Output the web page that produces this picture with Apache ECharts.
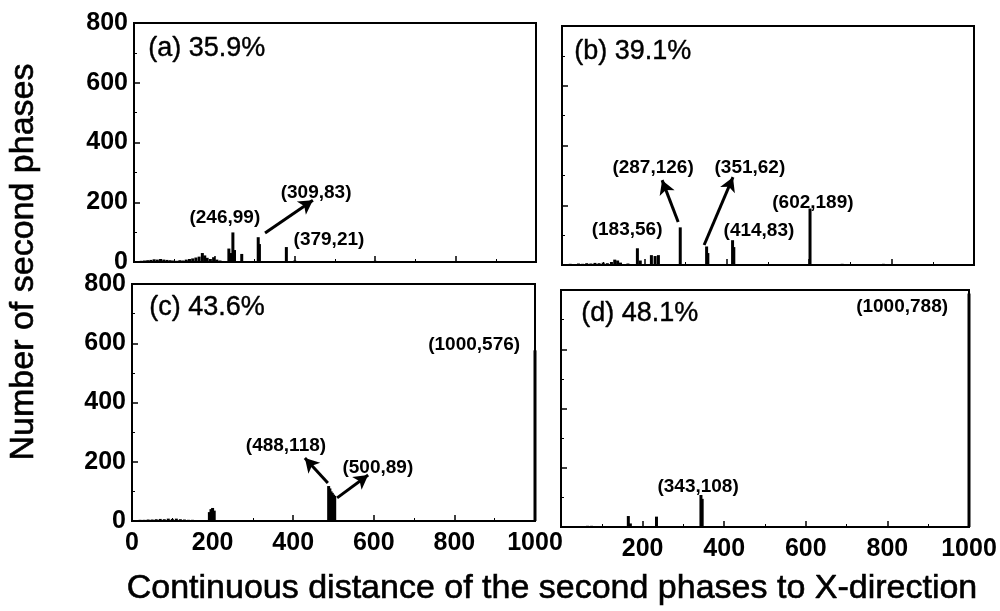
<!DOCTYPE html>
<html>
<head>
<meta charset="utf-8">
<script src="https://cdn.jsdelivr.net/npm/echarts@6/dist/echarts.min.js"></script>
<style>html,body{margin:0;padding:0;background:#fff;}#c{width:1000px;height:611px;}</style>
</head>
<body>
<div id="c"></div>
<script>
// ---- data ----
const xTicks = [0, 200, 400, 600, 800, 1000];
const yTicks = [0, 200, 400, 600, 800];

const panelTitles = ['(a) 35.9%', '(b) 39.1%', '(c) 43.6%', '(d) 48.1%'];

const aX = [10,18,26,34,42,50,58,66,74,82,90,98,106,114,122,130,138,146,154,162,170,176,182,190,198,206,214,236,240,246,250,268,309,312,379,400,600,800];
const aY = [3,4,5,6,7,9,8,10,8,7,6,5,4,6,5,8,10,12,15,18,30,22,14,10,16,8,5,45,30,99,40,27,83,60,50,5,4,3];

const bX = [10,20,30,40,50,60,70,80,90,100,110,120,128,135,142,160,183,190,217,226,234,287,351,354,414,417,602,680,780,880];
const bY = [3,4,3,5,4,6,5,7,6,8,6,10,18,15,8,5,56,15,33,30,33,126,62,40,83,60,189,4,4,3];

const cX = [10,20,30,40,50,60,70,80,90,100,110,120,130,140,150,192,196,200,204,488,491,494,497,500,503,1000];
const cY = [3,4,4,5,5,6,7,6,8,7,8,6,5,4,4,30,40,44,35,118,110,100,95,89,85,576];

const dX = [55,65,75,85,95,165,170,234,343,346,1000];
const dY = [3,4,4,3,3,37,12,35,108,95,788];

// annotation text and where (in data units) each label sits
const aNotes = [['(246,99)',226,147],['(309,83)',453,231],['(379,21)',485,74]];
const bNotes = [['(287,126)',221,324],['(351,62)',456,324],['(602,189)',609,207],['(183,56)',158,117],['(414,83)',478,114]];
const cNotes = [['(1000,576)',849,595],['(488,118)',382,253],['(500,89)',610,179]];
const dNotes = [['(1000,788)',836,743],['(343,108)',336,135]];

// arrows [fromX, fromY, toX, toY] in data units
const aArrows = [[326,97,445,207]];
const bArrows = [[282,144,243,284],[345,67,415,294]];
const cArrows = [[486,128,429,213],[509,78,586,155]];
const dArrows = [];

// ---- chart ----
const FF = '"Liberation Sans", Arial, sans-serif';
const grids = [
  {left:134, top:23, width:402, height:239},
  {left:562, top:26, width:412, height:239},
  {left:132, top:284, width:403, height:237},
  {left:561, top:290, width:408, height:237}
].map(g => Object.assign(g, {show:true, borderColor:'#000', borderWidth:2, backgroundColor:'rgba(0,0,0,0)'}));

function mkX(i, showLabels, hideZero) {
  return {
    type:'value', gridIndex:i, min:xTicks[0], max:xTicks[xTicks.length-1], interval:200,
    axisLine:{show:true, lineStyle:{color:'#000', width:2}},
    axisTick:{show:true, inside:true, length:6, lineStyle:{color:'#000', width:1.5}},
    minorTick:{show:true, splitNumber:2, length:3, lineStyle:{color:'#000', width:1}},
    splitLine:{show:false},
    axisLabel:{show:showLabels, color:'#000', fontSize:25, fontWeight:'bold', fontFamily:FF, margin:10,
      formatter: v => (hideZero && v === 0) ? '' : String(v)}
  };
}
function mkY(i, showLabels) {
  return {
    type:'value', gridIndex:i, min:yTicks[0], max:yTicks[yTicks.length-1], interval:200,
    axisLine:{show:true, lineStyle:{color:'#000', width:2}},
    axisTick:{show:true, inside:true, length:6, lineStyle:{color:'#000', width:1.5}},
    minorTick:{show:true, splitNumber:2, length:3, lineStyle:{color:'#000', width:1}},
    splitLine:{show:false},
    axisLabel:{show:showLabels, color:'#000', fontSize:25, fontWeight:'bold', fontFamily:FF, margin:6}
  };
}

function mkSeries(i, xs, ys, notes, arrows) {
  const data = xs.map((x, k) => [x, ys[k]]);
  return {
    type:'bar', xAxisIndex:i, yAxisIndex:i, data, barWidth:3, clip:false,
    itemStyle:{color:'#000'}, silent:true, animation:false,
    markPoint:{
      symbol:'circle', symbolSize:0, silent:true, animation:false,
      label:{show:true, position:'inside', color:'#000', fontFamily:FF, fontSize:19, fontWeight:'bold', formatter:'{b}'},
      data: notes.map(n => ({name:n[0], coord:[n[1], n[2]]}))
    },
    markLine:{
      silent:true, animation:false, symbol:['none','arrow'], symbolSize:[12,14],
      lineStyle:{color:'#000', width:3, type:'solid'}, label:{show:false},
      data: arrows.map(a => [{coord:[a[0], a[1]]}, {coord:[a[2], a[3]]}])
    }
  };
}

const chart = echarts.init(document.getElementById('c'), null, {renderer:'canvas'});
const titlePos = [[148,35],[574,38],[149,294],[581,300]];
chart.setOption({
  backgroundColor:'#fff',
  animation:false,
  grid: grids,
  xAxis: [mkX(0,false,false), mkX(1,false,false), mkX(2,true,false), mkX(3,true,true)],
  yAxis: [mkY(0,true), mkY(1,false), mkY(2,true), mkY(3,false)],
  series: [
    mkSeries(0, aX, aY, aNotes, aArrows),
    mkSeries(1, bX, bY, bNotes, bArrows),
    mkSeries(2, cX, cY, cNotes, cArrows),
    mkSeries(3, dX, dY, dNotes, dArrows)
  ],
  graphic: [
    ...panelTitles.map((t, i) => ({type:'text', left:titlePos[i][0], top:titlePos[i][1],
      style:{text:t, fill:'#000', font:'27px ' + FF, stroke:'#000', lineWidth:0.4}})),
    {type:'text', x:24, y:262, rotation:Math.PI/2,
      style:{text:'Number of second phases', fill:'#000', font:'34px ' + FF, align:'center', verticalAlign:'middle', stroke:'#000', lineWidth:0.6}},
    {type:'text', x:552, y:589,
      style:{text:'Continuous distance of the second phases to X-direction', fill:'#000', font:'34px ' + FF, align:'center', verticalAlign:'middle', stroke:'#000', lineWidth:0.6}}
  ]
});
</script>
</body>
</html>
